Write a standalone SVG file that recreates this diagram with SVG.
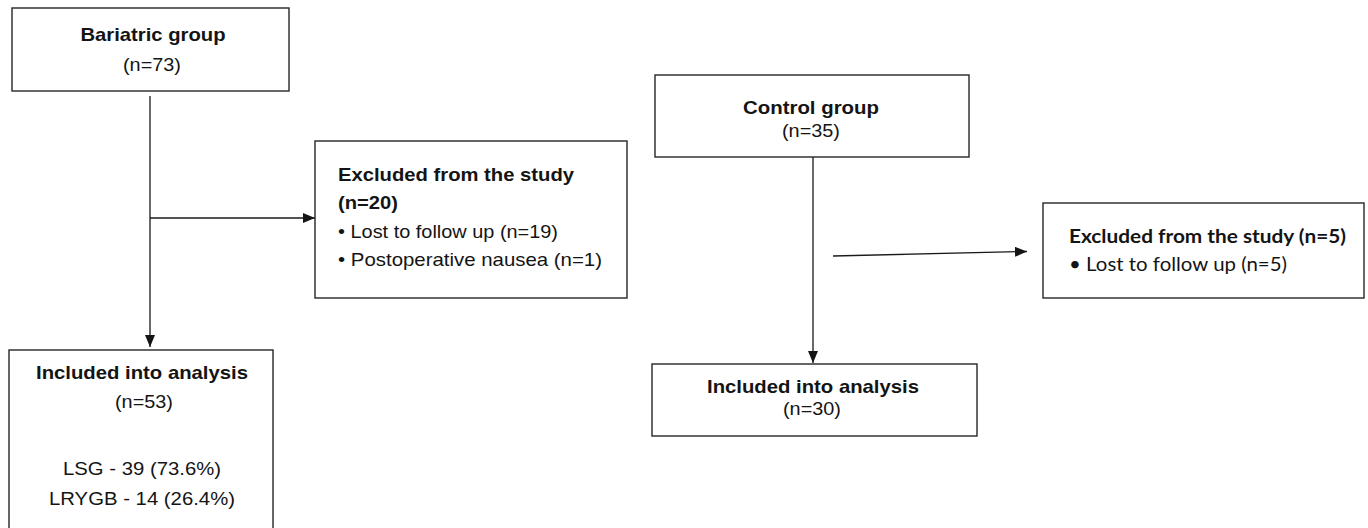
<svg xmlns="http://www.w3.org/2000/svg" width="1368" height="528" viewBox="0 0 1368 528">
<style>
.box{fill:#fff;stroke:#262626;stroke-width:1.4}
.t{font-family:"Liberation Sans",Arial,sans-serif;font-size:17.8px;fill:#141414}
.b{font-weight:bold}
.c{text-anchor:middle}
.cal{font-family:Lato,"Liberation Sans",sans-serif;font-size:18.5px;fill:#141414}
.ln{stroke:#1a1a1a;stroke-width:1.3;fill:none}
</style>
<defs>
<marker id="ah" viewBox="0 0 12 10" refX="12" refY="5" markerWidth="12" markerHeight="10" markerUnits="userSpaceOnUse" orient="auto">
<path d="M0,0 L12,5 L0,10 Z" fill="#141414"/>
</marker>
</defs>
<rect width="1368" height="528" fill="#fff"/>
<g id="connectors">
<line class="ln" x1="150" y1="96" x2="150" y2="347" marker-end="url(#ah)"/>
<line class="ln" x1="150" y1="218" x2="315" y2="218" marker-end="url(#ah)"/>
<line class="ln" x1="813" y1="157" x2="813" y2="363" marker-end="url(#ah)"/>
<line class="ln" x1="833" y1="256" x2="1027" y2="251.5" marker-end="url(#ah)"/>
</g>
<g id="bariatric">
<rect class="box" x="12" y="8" width="277" height="83"/>
<text class="t b c" x="153" y="41" textLength="145" lengthAdjust="spacingAndGlyphs">Bariatric group</text>
<text class="t c" x="152" y="71" textLength="58" lengthAdjust="spacingAndGlyphs">(n=73)</text>
</g>
<g id="excluded-bariatric">
<rect class="box" x="315" y="141" width="312" height="157"/>
<text class="t b" x="338" y="181" textLength="236" lengthAdjust="spacingAndGlyphs">Excluded from the study</text>
<text class="t b" x="338" y="209" textLength="60" lengthAdjust="spacingAndGlyphs">(n=20)</text>
<text class="t" x="338" y="238" textLength="220" lengthAdjust="spacingAndGlyphs">• Lost to follow up (n=19)</text>
<text class="t" x="338" y="266" textLength="264" lengthAdjust="spacingAndGlyphs">• Postoperative nausea (n=1)</text>
</g>
<g id="included-bariatric">
<rect class="box" x="9" y="350" width="264" height="200"/>
<text class="t b c" x="142" y="379" textLength="212" lengthAdjust="spacingAndGlyphs">Included into analysis</text>
<text class="t c" x="144" y="408" textLength="58" lengthAdjust="spacingAndGlyphs">(n=53)</text>
<text class="t c" x="142" y="475" textLength="158" lengthAdjust="spacingAndGlyphs">LSG - 39 (73.6%)</text>
<text class="t c" x="142" y="505" textLength="186" lengthAdjust="spacingAndGlyphs">LRYGB - 14 (26.4%)</text>
</g>
<g id="control">
<rect class="box" x="655" y="75" width="314" height="82"/>
<text class="t b c" x="811" y="114" textLength="136" lengthAdjust="spacingAndGlyphs">Control group</text>
<text class="t c" x="811" y="137" textLength="58" lengthAdjust="spacingAndGlyphs">(n=35)</text>
</g>
<g id="excluded-control">
<rect class="box" x="1043" y="203" width="321" height="95"/>
<text class="cal b" x="1069" y="243" textLength="277" lengthAdjust="spacingAndGlyphs">Excluded from the study (n=5)</text>
<text class="cal" x="1069" y="271" textLength="218" lengthAdjust="spacingAndGlyphs">• Lost to follow up (n=5)</text>
</g>
<g id="included-control">
<rect class="box" x="652" y="364" width="325" height="72"/>
<text class="t b c" x="813" y="393" textLength="212" lengthAdjust="spacingAndGlyphs">Included into analysis</text>
<text class="t c" x="812" y="415" textLength="58" lengthAdjust="spacingAndGlyphs">(n=30)</text>
</g>
</svg>
